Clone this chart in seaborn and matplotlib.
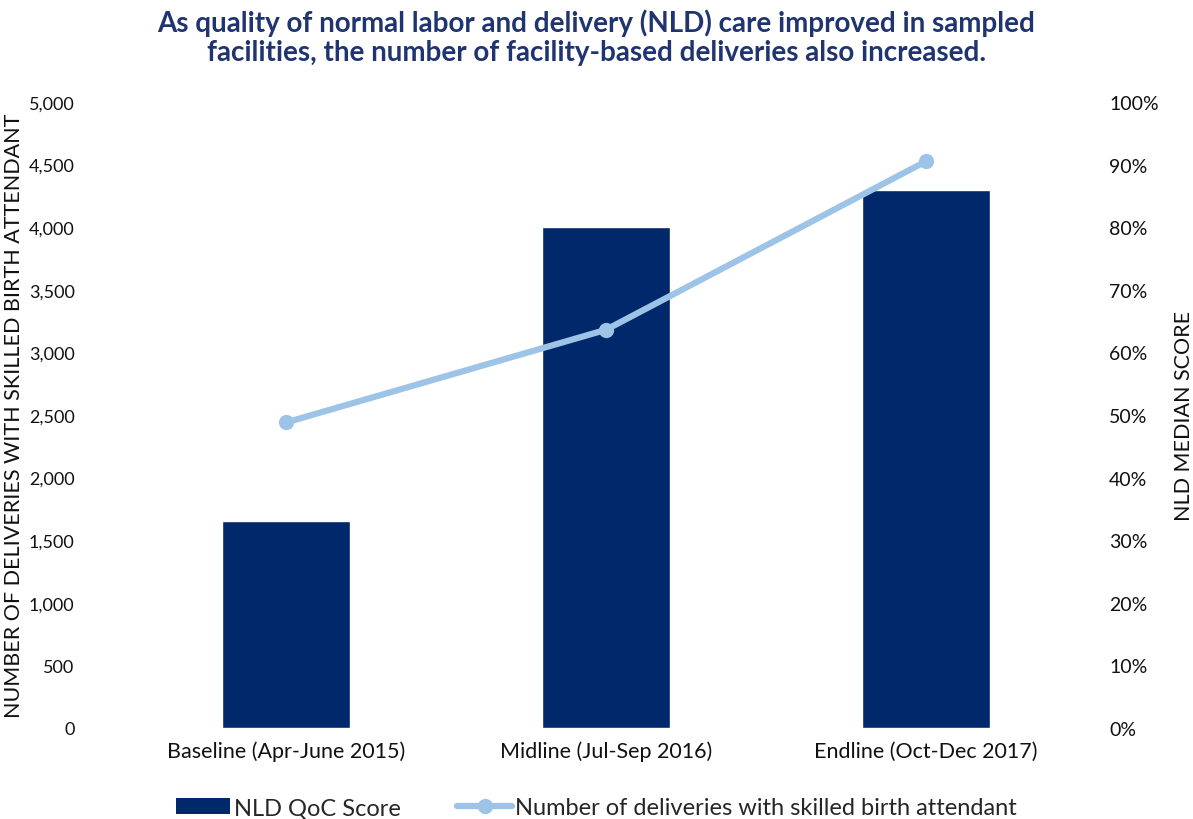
import matplotlib.pyplot as plt
import seaborn as sns
from matplotlib.patches import Patch
from matplotlib.lines import Line2D
from matplotlib.ticker import FuncFormatter, PercentFormatter

categories = ["Baseline (Apr-June 2015)", "Midline (Jul-Sep 2016)", "Endline (Oct-Dec 2017)"]
qoc_bars = [1650, 4000, 4300]
sba_line = [48.8, 63.6, 90.5]

bar_color = "#00286A"
line_color = "#9DC3E6"
title_color = "#1F3470"
text_color = "#111111"

sns.set_theme(style="white")
plt.rcParams["font.family"] = ["Lato", "DejaVu Sans"]

fig = plt.figure(figsize=(11.93, 8.2), dpi=100)
ax = fig.add_axes([0.1056, 0.111, 0.8044, 0.7634])

sns.barplot(x=categories, y=qoc_bars, color=bar_color, width=0.4, saturation=1, ax=ax)
ax.set_ylim(0, 5000)
ax.set_yticks(range(0, 5001, 500))
ax.yaxis.set_major_formatter(FuncFormatter(lambda v, p: f"{int(v):,}"))
ax.set_xlim(-0.5, 2.5)
ax.set_ylabel("NUMBER OF DELIVERIES WITH SKILLED BIRTH ATTENDANT", fontsize=15.5, color=text_color)
ax.yaxis.set_label_coords(-0.117, 0.5)
ax.yaxis.label.set_va("center")
ax.tick_params(axis="y", labelsize=13, colors=text_color, length=0, pad=37)
ax.tick_params(axis="x", labelsize=15.5, colors=text_color, length=0, pad=9)

ax2 = ax.twinx()
sns.lineplot(x=categories, y=sba_line, color=line_color, linewidth=4.5, marker="o",
             markersize=11, markeredgewidth=0, sort=False, ax=ax2)
ax2.set_ylim(0, 100)
ax2.set_yticks(range(0, 101, 10))
ax2.yaxis.set_major_formatter(PercentFormatter(decimals=0))
ax2.set_ylabel("NLD MEDIAN SCORE", fontsize=15.5, color=text_color)
ax2.yaxis.set_label_coords(1.102, 0.5)
ax2.yaxis.label.set_va("center")
ax2.tick_params(axis="y", labelsize=14, colors=text_color, length=0, pad=17)

for a in (ax, ax2):
    for s in a.spines.values():
        s.set_visible(False)

fig.text(0.5, 0.988, "As quality of normal labor and delivery (NLD) care improved in sampled\n"
         "facilities, the number of facility-based deliveries also increased.",
         ha="center", va="top", fontsize=20, fontweight="bold", color=title_color, linespacing=1.1)

handles = [Patch(facecolor=bar_color, edgecolor="none"),
           Line2D([0], [0], color=line_color, linewidth=4.5, marker="o", markersize=10)]
fig.legend(handles, ["NLD QoC Score", "Number of deliveries with skilled birth attendant"],
           loc="lower center", bbox_to_anchor=(0.5, -0.025), ncol=2, frameon=False,
           fontsize=17, handlelength=2.3, handleheight=0.7, columnspacing=2.4, handletextpad=0.15)

fig.savefig("out.png", dpi=100)
